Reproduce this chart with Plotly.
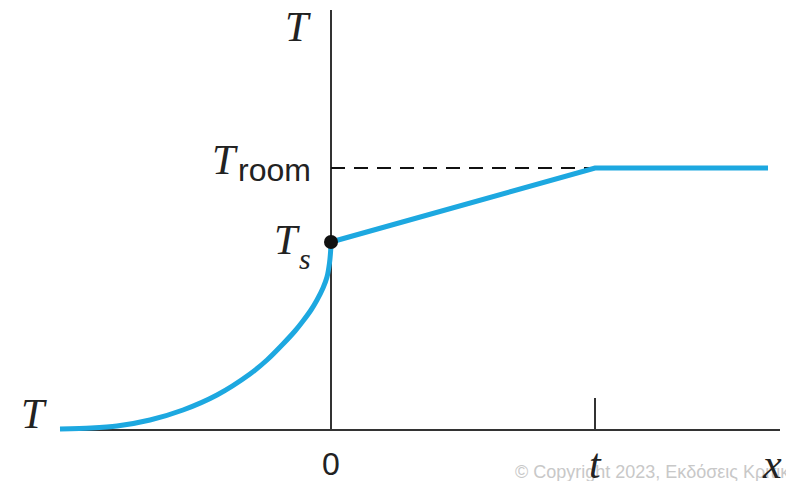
import plotly.graph_objects as go

# data (arbitrary units; origin where the axes cross)
curve_x = [-271, -240, -214, -181, -148, -114, -81, -64, -48, -36, -28, -20, -14, -8, -4, -1.5, -0.3, 0]
curve_y = [1, 2, 4, 10, 20, 35, 56, 70, 86, 99, 109, 120, 130, 142, 153, 167, 180, 188]
t_pos = 264
T_s = 188
T_room = 262
x_end = 437
axis_x = [-271, 449]
axis_y_top = 420
t_tick_h = 32

blue = "#1DA8E0"
axc = "#333333"

fig = go.Figure()
fig.add_trace(go.Scatter(x=axis_x, y=[0, 0], mode="lines", line=dict(color=axc, width=2), hoverinfo="skip"))
fig.add_trace(go.Scatter(x=[0, 0], y=[0, axis_y_top], mode="lines", line=dict(color=axc, width=2), hoverinfo="skip"))
fig.add_trace(go.Scatter(x=[t_pos, t_pos], y=[0, t_tick_h], mode="lines", line=dict(color=axc, width=2), hoverinfo="skip"))
fig.add_trace(go.Scatter(x=[0, t_pos], y=[T_room, T_room], mode="lines",
                         line=dict(color="#111111", width=2, dash="14px,9px"), hoverinfo="skip"))
fig.add_trace(go.Scatter(x=curve_x, y=curve_y, mode="lines",
                         line=dict(color=blue, width=5, shape="spline", smoothing=0.8), hoverinfo="skip"))
fig.add_trace(go.Scatter(x=[0, t_pos, x_end], y=[T_s, T_room, T_room], mode="lines",
                         line=dict(color=blue, width=5), hoverinfo="skip"))
fig.add_trace(go.Scatter(x=[0], y=[T_s], mode="markers", marker=dict(color="#111111", size=14), hoverinfo="skip"))

serif = "Liberation Serif"
sans = "Liberation Sans"
ink = "#222222"
ann = []
ann.append(dict(x=513 - 331, y=430 - 472, text="© Copyright 2023, Εκδόσεις Κριτική", showarrow=False,
                xanchor="left", yanchor="middle", font=dict(family=sans, size=18, color="#c8c8c8")))
ann.append(dict(x=298 - 331, y=430 - 27, text="<i>T</i>", showarrow=False, font=dict(family=serif, size=42, color=ink)))
ann.append(dict(x=34 - 331, y=430 - 414, text="<i>T</i>", showarrow=False, font=dict(family=serif, size=42, color=ink)))
ann.append(dict(x=240 - 331, y=430 - 160, text="<i>T</i>", showarrow=False, xanchor="right",
                font=dict(family=serif, size=42, color=ink)))
ann.append(dict(x=236 - 331, y=430 - 170, text="room", showarrow=False, xanchor="left",
                font=dict(family=sans, size=32, color=ink)))
ann.append(dict(x=287 - 331, y=430 - 240, text="<i>T</i>", showarrow=False, font=dict(family=serif, size=42, color=ink)))
ann.append(dict(x=305 - 331, y=430 - 258, text="<i>s</i>", showarrow=False, font=dict(family=serif, size=30, color=ink)))
ann.append(dict(x=0, y=430 - 464, text="0", showarrow=False, font=dict(family=sans, size=32, color=ink)))
ann.append(dict(x=t_pos, y=430 - 464, text="<i>t</i>", showarrow=False, font=dict(family=serif, size=42, color=ink)))
ann.append(dict(x=772 - 331, y=430 - 464, text="<i>x</i>", showarrow=False, font=dict(family=serif, size=42, color=ink)))

fig.update_layout(
    width=786, height=481, margin=dict(l=0, r=0, t=0, b=0),
    paper_bgcolor="white", plot_bgcolor="white", showlegend=False,
    xaxis=dict(range=[-331, 455], visible=False, fixedrange=True),
    yaxis=dict(range=[-51, 430], visible=False, fixedrange=True),
    annotations=ann,
)
fig.write_html("out.html", config={"displayModeBar": False, "staticPlot": True})

with open("out.html", encoding="utf-8") as f:
    html = f.read()
html = html.replace("<body>", "<body style=\"margin:0;overflow:hidden\">", 1)
with open("out.html", "w", encoding="utf-8") as f:
    f.write(html)
